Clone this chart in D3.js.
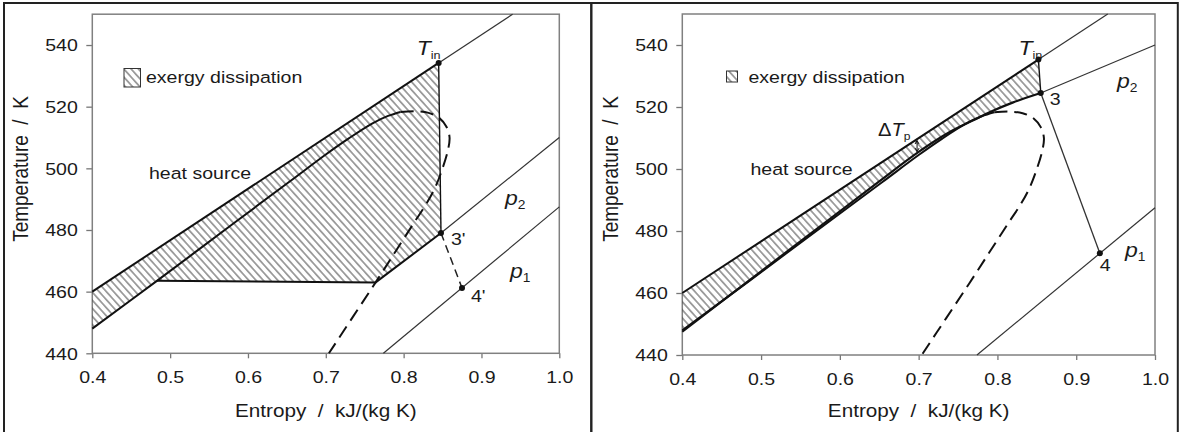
<!DOCTYPE html>
<html><head><meta charset="utf-8">
<script src="https://cdn.jsdelivr.net/npm/d3@7"></script>
<style>
html,body{margin:0;padding:0;background:#fff;}
svg{display:block;font-family:"Liberation Sans",Arial,Helvetica,sans-serif;}
</style></head><body>
<svg id="chart" width="1184" height="432"></svg>
<script>
// ---- axis data ----
const entropyTicks = [0.4, 0.5, 0.6, 0.7, 0.8, 0.9, 1.0];
const temperatureTicks = [440, 460, 480, 500, 520, 540];
const entropyDomain = [0.4, 1.0];
const temperatureDomain = [440, 550];

// ---- heat source stream and working-fluid property lines [s, T] ----
const heatSource = [[0.4, 460], [0.94, 550]];
const satLiquid = [[0.40, 448], [0.483, 463.5], [0.586, 483], [0.654, 495.8], [0.70, 504.5],
  [0.73, 509.8], [0.76, 514.6], [0.78, 517], [0.796, 518.3]];
const satVapor = [[0.796, 518.3], [0.815, 518.5], [0.832, 518], [0.846, 516.3], [0.855, 513.5],
  [0.859, 510], [0.857, 506], [0.85, 500], [0.84, 493.5], [0.828, 488], [0.815, 483],
  [0.79, 473.2], [0.764, 463], [0.735, 451.9], [0.704, 440]];
const isobarP1 = [[0.774, 440], [1.0, 487.5]];

// ---- subcritical cycle ----
const subEvaporation = [[0.483, 463.5], [0.764, 463]];
const subSuperheat = [[0.764, 463], [0.848, 479], [1.0, 510]];
const subInlet = [0.845, 534.2];
const subState3 = [0.848, 479];
const subState4 = [0.875, 461.2];

// ---- supercritical cycle ----
const superHeating = [[0.4, 447.5], [0.5, 467], [0.6, 486.3], [0.65, 496], [0.7, 505.5],
  [0.74, 512], [0.77, 515.8], [0.79, 518.3], [0.82, 521.5], [0.855, 524.5]];
const superIsobarAbove = [[0.855, 524.5], [1.0, 540]];
const superInlet = [0.852, 535.3];
const superState3 = [0.855, 524.5];
const superState4 = [0.930, 472.8];
const pinchEntropy = 0.698;

// ---- drawing ----
const SX = 1.15;               // horizontal glyph stretch
const INK = "#1a1a1a";
const svg = d3.select("#chart");

const defs = svg.append("defs");
const pat = defs.append("pattern").attr("id", "hatch")
  .attr("patternUnits", "userSpaceOnUse").attr("width", 5.4).attr("height", 5.4)
  .attr("patternTransform", "rotate(-42)");
pat.append("line").attr("x1", 2.7).attr("y1", -1).attr("x2", 2.7).attr("y2", 6.4)
  .attr("stroke", "#2a2a2a").attr("stroke-width", 0.85);

// outer panel frames
svg.append("rect").attr("x", 4).attr("y", 3).attr("width", 587.3).attr("height", 432)
  .attr("fill", "none").attr("stroke", "#222").attr("stroke-width", 2);
svg.append("rect").attr("x", 591.3).attr("y", 3).attr("width", 586.5).attr("height", 432)
  .attr("fill", "none").attr("stroke", "#222").attr("stroke-width", 2);

function stretched(parent, x, y, anchor, size) {
  return parent.append("text")
    .attr("transform", `translate(${x},${y}) scale(${SX},1)`)
    .attr("text-anchor", anchor || "start")
    .attr("font-size", size)
    .attr("fill", INK);
}

function interpT(pts, s) {
  for (let i = 1; i < pts.length; i++) {
    if (s <= pts[i][0]) {
      const t = (s - pts[i - 1][0]) / (pts[i][0] - pts[i - 1][0]);
      return pts[i - 1][1] + t * (pts[i][1] - pts[i - 1][1]);
    }
  }
  return pts[pts.length - 1][1];
}

function panel(cfg) {
  const g = svg.append("g");
  const x = d3.scaleLinear().domain(entropyDomain).range(cfg.xr);
  const y = d3.scaleLinear().domain(temperatureDomain).range(cfg.yr);
  const line = d3.line().x(d => x(d[0])).y(d => y(d[1]));
  const smooth = d3.line().x(d => x(d[0])).y(d => y(d[1])).curve(d3.curveCatmullRom.alpha(0.5));

  // axes
  const ay = g.append("g").attr("transform", `translate(${cfg.xr[0]},0)`)
    .call(d3.axisLeft(y).tickValues(temperatureTicks).tickSize(6).tickFormat(d3.format("d")));
  ay.select(".domain").remove();
  ay.selectAll(".tick line").attr("stroke", "#777").attr("stroke-width", 1.3);
  ay.selectAll(".tick text").attr("x", 0).attr("dy", "0.34em")
    .attr("transform", `translate(-14.5,0) scale(${SX},1)`)
    .attr("font-size", 17).attr("fill", INK).attr("font-family", null);

  const ax = g.append("g").attr("transform", `translate(0,${cfg.yr[0]})`)
    .call(d3.axisBottom(x).tickValues(entropyTicks).tickSize(5).tickFormat(d3.format(".1f")));
  ax.select(".domain").remove();
  ax.selectAll(".tick line").attr("stroke", "#777").attr("stroke-width", 1.3);
  ax.selectAll(".tick text").attr("y", 0).attr("dy", 0)
    .attr("transform", `translate(0,30) scale(${SX},1)`)
    .attr("font-size", 17).attr("fill", INK).attr("font-family", null);

  g.append("rect").attr("x", cfg.xr[0]).attr("y", cfg.yr[1])
    .attr("width", cfg.xr[1] - cfg.xr[0]).attr("height", cfg.yr[0] - cfg.yr[1])
    .attr("fill", "none").attr("stroke", "#808080").attr("stroke-width", 1.5);

  // axis titles
  const cx = (cfg.xr[0] + cfg.xr[1]) / 2;
  stretched(g, cx, 416.5, "middle", 18).text("Entropy \u00a0/\u00a0 kJ/(kg K)");
  g.append("text")
    .attr("transform", `translate(${cfg.xr[0] - 64},169) scale(${SX},1) rotate(-90)`)
    .attr("text-anchor", "middle").attr("font-size", 19).attr("fill", INK)
    .text("Temperature \u00a0/\u00a0 K");

  return { g, x, y, line, smooth };
}

function dot(p, s, T) {
  p.g.append("circle").attr("cx", p.x(s)).attr("cy", p.y(T)).attr("r", 3).attr("fill", "#111");
}

function subLabel(p, px, py, main, sub, size, subSize, italicMain, italicSub) {
  const t = stretched(p.g, px, py, "start", size);
  t.append("tspan").attr("font-style", italicMain ? "italic" : null).text(main);
  t.append("tspan").attr("font-size", subSize).attr("dy", size * 0.22)
    .attr("font-style", italicSub ? "italic" : null).text(sub);
  return t;
}

function legend(p, bx, by, bw, bh, tx, ty) {
  p.g.append("rect").attr("x", bx).attr("y", by).attr("width", bw).attr("height", bh)
    .attr("fill", "url(#hatch)").attr("stroke", "#333").attr("stroke-width", 1);
  stretched(p.g, tx, ty, "start", 17).text("exergy dissipation");
}

// ================= left: subcritical =================
{
  const p = panel({ xr: [92.3, 559.3], yr: [353.3, 14.2] });
  const { g, x, y, line, smooth } = p;

  // hatched exergy-loss area
  const area = [heatSource[0], subInlet, subState3]
    .concat([subSuperheat[0]]).concat([subEvaporation[0]]).concat([satLiquid[0]]);
  g.append("path").attr("d", line(area) + "Z").attr("fill", "url(#hatch)").attr("stroke", "none");

  // thin continuation lines
  g.append("path").attr("d", line([subInlet, heatSource[1]]))
    .attr("fill", "none").attr("stroke", "#333").attr("stroke-width", 1.2);
  g.append("path").attr("d", line([subState3, subSuperheat[2]]))
    .attr("fill", "none").attr("stroke", "#333").attr("stroke-width", 1.2);
  g.append("path").attr("d", line(isobarP1))
    .attr("fill", "none").attr("stroke", "#333").attr("stroke-width", 1.2);

  // saturation dome
  g.append("path").attr("d", smooth(satVapor)).attr("fill", "none")
    .attr("stroke", "#111").attr("stroke-width", 2).attr("stroke-dasharray", "13,7");
  g.append("path").attr("d", smooth(satLiquid)).attr("fill", "none")
    .attr("stroke", "#111").attr("stroke-width", 2);

  // thick boundaries
  g.append("path").attr("d", line([heatSource[0], subInlet])).attr("fill", "none")
    .attr("stroke", "#111").attr("stroke-width", 2);
  g.append("path").attr("d", line(subEvaporation.concat([subSuperheat[0], subState3])))
    .attr("fill", "none").attr("stroke", "#111").attr("stroke-width", 2);
  g.append("path").attr("d", line([subInlet, subState3])).attr("fill", "none")
    .attr("stroke", "#111").attr("stroke-width", 1.4);

  // expansion 3' -> 4'
  g.append("path").attr("d", line([subState3, subState4])).attr("fill", "none")
    .attr("stroke", "#222").attr("stroke-width", 1.5).attr("stroke-dasharray", "8,5");

  dot(p, subInlet[0], subInlet[1]);
  dot(p, subState3[0], subState3[1]);
  dot(p, subState4[0], subState4[1]);

  subLabel(p, x(subInlet[0]) - 22, y(subInlet[1]) - 8, "T", "in", 20, 11, true, false);
  stretched(g, x(subState3[0]) + 10, y(subState3[1]) + 12, "start", 17).text("3'");
  stretched(g, x(subState4[0]) + 9, y(subState4[1]) + 14, "start", 17).text("4'");
  subLabel(p, 505, 205, "p", "2", 20, 12, true, false);
  subLabel(p, 510, 278, "p", "1", 20, 12, true, false);
  stretched(g, 149, 179, "start", 17).text("heat source");
  legend(p, 124, 68.5, 16.5, 18.5, 146, 82.5);
}

// ================= right: supercritical =================
{
  const p = panel({ xr: [682.3, 1155], yr: [355, 14] });
  const { g, x, y, line, smooth } = p;

  const area = [heatSource[0], superInlet].concat(superHeating.slice().reverse());
  g.append("path").attr("d", line(area) + "Z").attr("fill", "url(#hatch)").attr("stroke", "none");

  g.append("path").attr("d", line([superInlet, heatSource[1]]))
    .attr("fill", "none").attr("stroke", "#333").attr("stroke-width", 1.2);
  g.append("path").attr("d", line(superIsobarAbove))
    .attr("fill", "none").attr("stroke", "#333").attr("stroke-width", 1.2);
  g.append("path").attr("d", line(isobarP1))
    .attr("fill", "none").attr("stroke", "#333").attr("stroke-width", 1.2);

  g.append("path").attr("d", smooth(satVapor)).attr("fill", "none")
    .attr("stroke", "#111").attr("stroke-width", 2).attr("stroke-dasharray", "13,7");
  g.append("path").attr("d", smooth(satLiquid)).attr("fill", "none")
    .attr("stroke", "#111").attr("stroke-width", 2);

  g.append("path").attr("d", line([heatSource[0], superInlet])).attr("fill", "none")
    .attr("stroke", "#111").attr("stroke-width", 2);
  g.append("path").attr("d", smooth(superHeating)).attr("fill", "none")
    .attr("stroke", "#111").attr("stroke-width", 2.2);
  g.append("path").attr("d", line([superInlet, superState3])).attr("fill", "none")
    .attr("stroke", "#111").attr("stroke-width", 1.4);

  // expansion 3 -> 4
  g.append("path").attr("d", line([superState3, superState4])).attr("fill", "none")
    .attr("stroke", "#333").attr("stroke-width", 1.3);

  dot(p, superInlet[0], superInlet[1]);
  dot(p, superState3[0], superState3[1]);
  dot(p, superState4[0], superState4[1]);

  // pinch arrow
  const px = x(pinchEntropy);
  const yTop = y(interpT(heatSource, pinchEntropy)) + 1.5;
  const yBot = y(interpT(superHeating, pinchEntropy)) - 1.5;
  g.append("line").attr("x1", px).attr("x2", px).attr("y1", yTop).attr("y2", yBot)
    .attr("stroke", "#111").attr("stroke-width", 1);
  g.append("path").attr("d", `M${px - 2},${yTop + 3.5}L${px},${yTop}L${px + 2},${yTop + 3.5}`)
    .attr("fill", "none").attr("stroke", "#111").attr("stroke-width", 1);
  g.append("path").attr("d", `M${px - 2},${yBot - 3.5}L${px},${yBot}L${px + 2},${yBot - 3.5}`)
    .attr("fill", "none").attr("stroke", "#111").attr("stroke-width", 1);

  const dt = stretched(g, 878, 136, "start", 17.5);
  dt.append("tspan").text("\u0394");
  dt.append("tspan").attr("font-style", "italic").text("T");
  dt.append("tspan").attr("font-size", 10.5).attr("dy", 4).text("p");

  subLabel(p, x(superInlet[0]) - 20, y(superInlet[1]) - 5, "T", "in", 20, 11, true, false);
  stretched(g, x(superState3[0]) + 9, y(superState3[1]) + 12, "start", 17).text("3");
  stretched(g, x(superState4[0]) + 0, y(superState4[1]) + 18, "start", 17).text("4");
  subLabel(p, 1117, 88, "p", "2", 20, 12, true, false);
  subLabel(p, 1125, 257, "p", "1", 20, 12, true, false);
  stretched(g, 750.5, 175, "start", 17).text("heat source");
  legend(p, 726.5, 71, 11, 11, 748.5, 82.5);
}
</script>
</body></html>
